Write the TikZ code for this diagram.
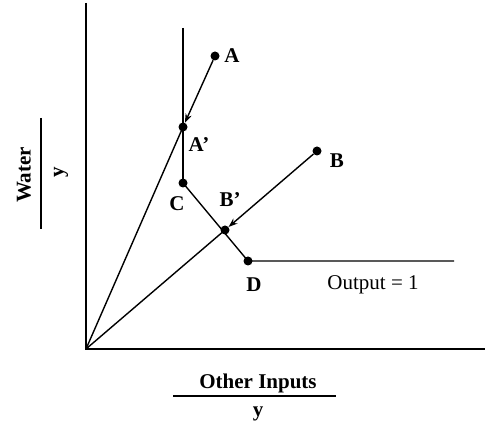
\documentclass[tikz,border=0pt]{standalone}
\usepackage{fontspec}
\setmainfont{Liberation Serif}
\usetikzlibrary{arrows.meta}
\begin{document}
\begin{tikzpicture}[x=1pt,y=-1pt,
  ln/.style={line width=1.4pt},
  axis/.style={line width=1.5pt},
  bar/.style={line width=2.6pt},
  dot/.style={circle,fill=black,inner sep=0pt,minimum size=9pt},
  lab/.style={inner sep=0pt,font=\fontsize{21}{24}\selectfont\bfseries},
  reg/.style={inner sep=0pt,font=\fontsize{21}{24}\selectfont},
  axlab/.style={inner sep=0pt,font=\fontsize{21}{24}\selectfont\bfseries},
  arr/.style={ln,-{Stealth[length=9pt,width=6.5pt]}}]
\useasboundingbox (0,0) rectangle (485,427);
% axes
\coordinate (O) at (86,349);
\coordinate (ytop) at (86,3);
\coordinate (xend) at (485,349);
\draw[axis] (ytop) -- (O) -- (xend);
% points
\node[dot] (A) at (215,56) {};
\node[dot] (Ap) at (183,127) {};
\node[dot] (B) at (317,151) {};
\node[dot] (Bp) at (225,230) {};
\node[dot] (C) at (183,183) {};
\node[dot] (D) at (248,261) {};
\coordinate (vtop) at (183,28);
\coordinate (hend) at (454,261);
% isoquant
\draw[ln] (vtop) -- (C.center);
\draw[ln] (C.center) -- (D.center) -- (hend);
% rays
\draw[ln] (O) -- (Ap.center);
\draw[ln] (O) -- (Bp.center);
% arrows
\draw[arr] (A) -- (Ap);
\draw[arr] (B) -- (Bp);
% labels
\node[lab] (lA) at (232,56) {A};
\node[lab] (lAp) at (199,145) {A’};
\node[lab] (lB) at (337,161) {B};
\node[lab] (lBp) at (230,200) {B’};
\node[lab] (lC) at (177,204) {C};
\node[lab] (lD) at (254,285) {D};
\node[reg] (out) at (373,285) {Output = 1};
% axis labels
\node[axlab,rotate=90] (water) at (24,175) {Water};
\coordinate (b1) at (41,118);
\coordinate (b2) at (41,229);
\draw[bar] (b1) -- (b2);
\node[axlab,rotate=90] (wy) at (61,172) {y};
\node[axlab] (other) at (258,383) {Other Inputs};
\coordinate (b3) at (173,396);
\coordinate (b4) at (336,396);
\draw[bar] (b3) -- (b4);
\node[axlab] (oy) at (258,414) {y};
\end{tikzpicture}
\end{document}
